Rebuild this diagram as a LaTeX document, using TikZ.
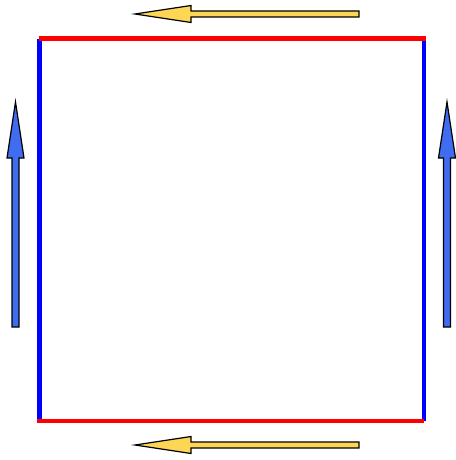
\documentclass[tikz,border=0pt]{standalone}
\usepackage{tikz}

\definecolor{arrowyellow}{RGB}{252,214,84}
\definecolor{arrowblue}{RGB}{64,108,240}

\tikzset{
    edgeline/.style={line width=4.5pt, line cap=rect},
    blockarrow/.style={draw=black, line width=1.2pt, line join=miter}
}

\begin{document}
\begin{tikzpicture}[x=1pt, y=-1pt]
    \useasboundingbox (0,0) rectangle (455,460);

    % Square edges
    \draw[edgeline, blue] (39.5,41) -- (39.5,421);
    \draw[edgeline, blue] (424,39) -- (424,419);
    \draw[edgeline, red] (41,38.5) -- (424,38.5);
    \draw[edgeline, red] (39.5,421) -- (422,421);

    % Horizontal arrows (pointing left)
    \foreach \y in {14,445}
        \filldraw[blockarrow, fill=arrowyellow]
            (135,\y) -- (191,\y-8.5) -- (191,\y-3) -- (359,\y-3)
            -- (359,\y+3) -- (191,\y+3) -- (191,\y+8.5) -- cycle;

    % Vertical arrows (pointing up)
    \foreach \x in {15.5,447}
        \filldraw[blockarrow, fill=arrowblue]
            (\x,102) -- (\x+8.5,158) -- (\x+3.5,158) -- (\x+3.5,327)
            -- (\x-3.5,327) -- (\x-3.5,158) -- (\x-8.5,158) -- cycle;
\end{tikzpicture}
\end{document}
